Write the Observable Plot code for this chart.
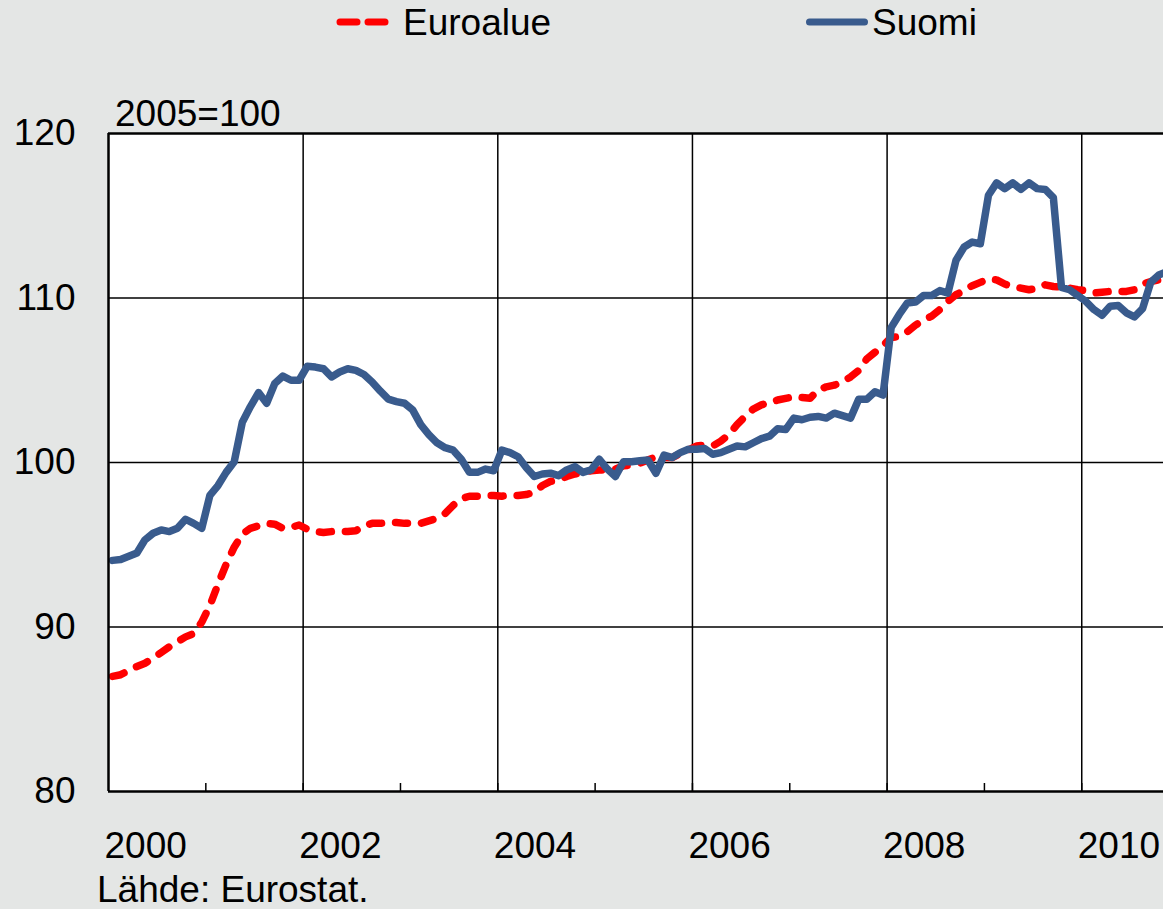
<!DOCTYPE html>
<html>
<head>
<meta charset="utf-8">
<script src="https://cdn.jsdelivr.net/npm/d3@7"></script>
<script src="https://cdn.jsdelivr.net/npm/@observablehq/plot@0.6"></script>
<style>
  html, body { margin: 0; padding: 0; background: #e4e6e5; }
  #wrap { position: relative; width: 1163px; height: 909px; overflow: hidden; background: #e4e6e5;
          font-family: "Liberation Sans", Arial, sans-serif; font-size: 37px; color: #000; }
  .lbl { position: absolute; line-height: 37px; white-space: nowrap; }
  .sw { position: absolute; }
  #chart { position: absolute; left: 0; top: 0; }
</style>
</head>
<body>
<div id="wrap">
  <svg class="sw" style="left:330px;top:10px" width="80" height="24">
    <line x1="10" y1="12" x2="66" y2="12" stroke="#ff0000" stroke-width="7" stroke-linecap="round" stroke-dasharray="17,11"/>
  </svg>
  <div class="lbl" style="left:403px;top:4px">Euroalue</div>
  <svg class="sw" style="left:800px;top:10px" width="80" height="24">
    <line x1="9.5" y1="12" x2="64.5" y2="12" stroke="#395b8d" stroke-width="7" stroke-linecap="round"/>
  </svg>
  <div class="lbl" style="left:872px;top:4px">Suomi</div>
  <div class="lbl" style="left:115px;top:95px">2005=100</div>
  <div class="lbl" style="left:97px;top:871px">Lähde: Eurostat.</div>
  <div id="chart"></div>
</div>
<script>
// Monthly index values, Jan 2000 – Nov 2010 (2005=100)
const startYear = 2000;
const suomi = [
  94.05, 94.1, 94.3, 94.5, 95.3, 95.7, 95.9, 95.8, 96.0, 96.55, 96.3, 96.0,
  98.0, 98.6, 99.4, 100.05, 102.45, 103.4, 104.25, 103.6, 104.8, 105.25, 105.0, 105.0,
  105.85, 105.8, 105.7, 105.2, 105.5, 105.7, 105.6, 105.35, 104.9, 104.35, 103.85, 103.7,
  103.6, 103.2, 102.3, 101.7, 101.2, 100.9, 100.75, 100.2, 99.4, 99.4, 99.6, 99.5,
  100.75, 100.6, 100.35, 99.7, 99.15, 99.3, 99.35, 99.2, 99.55, 99.75, 99.4, 99.55,
  100.2, 99.6, 99.15, 100.05, 100.05, 100.1, 100.15, 99.35, 100.45, 100.3, 100.6, 100.8,
  100.8, 100.85, 100.5, 100.6, 100.8, 101.0, 100.95, 101.2, 101.45, 101.6, 102.05, 102.0,
  102.7, 102.6, 102.75, 102.8, 102.7, 103.0, 102.85, 102.7, 103.85, 103.85, 104.3, 104.1,
  108.2, 109.0, 109.7, 109.75, 110.15, 110.15, 110.45, 110.3, 112.3, 113.1, 113.4, 113.3,
  116.25, 117.0, 116.65, 117.0, 116.6, 117.0, 116.65, 116.6, 116.1, 110.65, 110.5, 110.15,
  109.8, 109.3, 108.95, 109.5, 109.55, 109.1, 108.85, 109.35, 110.95, 111.4, 111.6
];
const euroalue = [
  87.0, 87.1, 87.35, 87.6, 87.8, 88.1, 88.45, 88.8, 89.1, 89.4, 89.6, 90.3,
  91.3, 92.6, 93.8, 94.85, 95.65, 96.0, 96.15, 96.3, 96.25, 96.0, 96.05, 96.2,
  95.95, 95.8, 95.75, 95.8, 95.8, 95.8, 95.85, 96.15, 96.3, 96.3, 96.35, 96.35,
  96.3, 96.3, 96.3, 96.45, 96.6, 96.9, 97.4, 97.8, 97.95, 97.95, 98.0, 98.0,
  97.95, 98.0, 98.0, 98.05, 98.2, 98.6, 98.85, 98.95, 99.15, 99.3, 99.4, 99.5,
  99.55, 99.55, 99.6, 99.8, 99.85, 99.95, 100.15, 100.35, 100.3, 100.3, 100.55, 100.75,
  101.0, 101.05, 101.0, 101.3, 101.7, 102.3, 102.8, 103.25, 103.5, 103.65, 103.8, 103.9,
  104.0, 103.95, 103.9, 104.4, 104.6, 104.7, 104.9, 105.2, 105.6, 106.3, 106.7, 107.1,
  107.6, 107.65, 107.95, 108.35, 108.65, 108.9, 109.3, 109.8, 110.2, 110.45, 110.75, 110.95,
  111.15, 111.1, 110.85, 110.7, 110.6, 110.5, 110.6, 110.8, 110.7, 110.65, 110.6, 110.5,
  110.45, 110.3, 110.35, 110.4, 110.4, 110.4, 110.5, 110.85, 111.0, 111.1, 111.2
];
const yearLabels = [2000, 2002, 2004, 2006, 2008, 2010];
const gridYears = [2002, 2004, 2006, 2008, 2010];
const minorYears = [2001, 2002, 2003, 2004, 2005, 2006, 2007, 2008, 2009, 2010];
const yTicks = [80, 90, 100, 110, 120];
const yGrid = [90, 100, 110];

// month midpoints as fractional years
const monthX = i => startYear + (i + 0.5) / 12;
const suomiData = suomi.map((v, i) => ({x: monthX(i), y: v}));
const euroData = euroalue.map((v, i) => ({x: monthX(i), y: v}));

const chart = Plot.plot({
  width: 1163,
  height: 909,
  marginLeft: 108,
  marginRight: 0,
  marginTop: 133,
  marginBottom: 118,
  style: {background: "transparent", fontFamily: "'Liberation Sans', Arial, sans-serif", fontSize: "37px", color: "#000", overflow: "visible"},
  x: {domain: [2000, 2010.84], axis: null},
  y: {domain: [80, 120], axis: null},
  marks: [
    Plot.frame({fill: "white", stroke: "none"}),
    Plot.gridX(gridYears, {stroke: "black", strokeOpacity: 1, strokeWidth: 1.5}),
    Plot.gridY(yGrid, {stroke: "black", strokeOpacity: 1, strokeWidth: 1.5}),
    Plot.ruleX(minorYears, {x: d => d, stroke: "black", strokeWidth: 1.5, insetTop: 650}),
    Plot.line(euroData, {x: "x", y: "y", stroke: "#ff0000", strokeWidth: 7.5, strokeDasharray: "12,14", strokeLinecap: "round", strokeLinejoin: "round", clip: true}),
    Plot.line(suomiData, {x: "x", y: "y", stroke: "#395b8d", strokeWidth: 7.5, strokeLinejoin: "round", strokeLinecap: "round", clip: true}),
    Plot.ruleX([2000], {stroke: "black", strokeWidth: 2.5}),
    Plot.ruleY([80, 120], {stroke: "black", strokeWidth: 2.5}),
    Plot.axisY(yTicks, {anchor: "left", label: null, tickSize: 0, tickPadding: 33, fontSize: 37, tickFormat: d => String(d)}),
    Plot.axisX(yearLabels, {anchor: "bottom", label: null, tickSize: 0, tickPadding: 40, fontSize: 37, textAnchor: "start", dx: -4, tickFormat: d => String(d)})
  ]
});
document.getElementById("chart").appendChild(chart);
</script>
</body>
</html>
